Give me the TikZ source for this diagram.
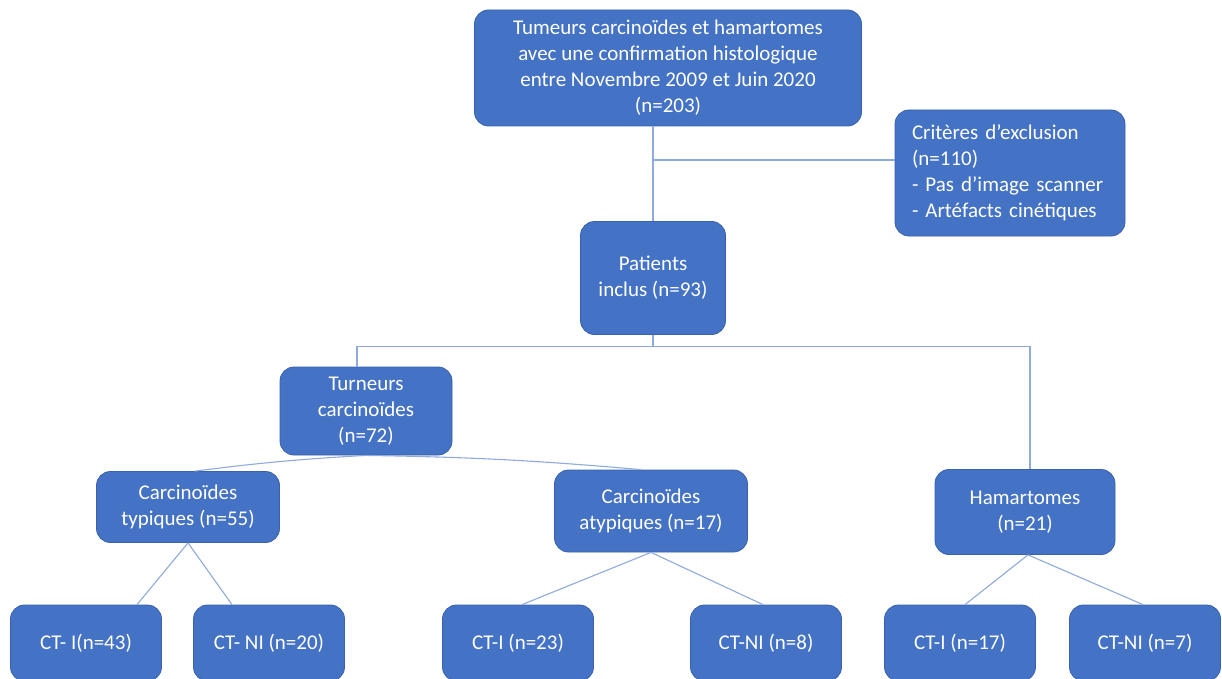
\documentclass[tikz,border=0pt]{standalone}
\usepackage{fontspec}
\setmainfont{Carlito}
\usetikzlibrary{positioning}
\definecolor{boxblue}{HTML}{4472C4}
\definecolor{boxedge}{HTML}{3A62AC}
\definecolor{linkblue}{HTML}{8FAADC}

\begin{document}
\begin{tikzpicture}
	[
		x=1pt, y=-1pt,
		bluebox/.style={rectangle, rounded corners=14pt, draw=boxedge, fill=boxblue, line width=0.8pt, text=white, align=center, inner sep=0pt, font=\fontsize{21}{26}\selectfont},
		leafbox/.style={bluebox, minimum width=151pt, minimum height=76pt},
		link/.style={draw=linkblue, line width=1.1pt},
	]
	\useasboundingbox (0,0) rectangle (1222,679);

	\node[bluebox, minimum width=387pt, minimum height=116pt] (tumeurs) at (668,68) {Tumeurs carcinoïdes et hamartomes\\avec une confirmation histologique\\entre Novembre 2009 et Juin 2020\\(n=203)};
	\node[bluebox, minimum width=230pt, minimum height=126pt, text width=196pt, align=left] (exclusion) at (1010,173) {Critères d’exclusion\\(n=110)\\- Pas d’image scanner\\- Artéfacts cinétiques};
	\node[bluebox, minimum width=145pt, minimum height=113pt] (inclus) at (653,278) {Patients\\inclus (n=93)};

	\node[bluebox, minimum width=172pt, minimum height=88pt] (carcinoides) at (366,411) {Turneurs\\carcinoïdes\\(n=72)};
	\node[bluebox, minimum width=183pt, minimum height=71pt] (typiques) at (188,507) {Carcinoïdes\\typiques (n=55)};
	\node[bluebox, minimum width=193pt, minimum height=82pt] (atypiques) at (651,511) {Carcinoïdes\\atypiques (n=17)};
	\node[bluebox, minimum width=180pt, minimum height=85pt] (hamartomes) at (1025,512) {Hamartomes\\(n=21)};

	\node[leafbox] (typI) at (86,643) {CT- I(n=43)};
	\node[leafbox] (typNI) at (269,643) {CT- NI (n=20)};
	\node[leafbox] (atypI) at (518,643) {CT-I (n=23)};
	\node[leafbox] (atypNI) at (766,643) {CT-NI (n=8)};
	\node[leafbox] (hamI) at (960,643) {CT-I (n=17)};
	\node[leafbox] (hamNI) at (1145,643) {CT-NI (n=7)};

	% tronc et exclusion
	\draw[link] (tumeurs.south -| inclus.north) -- (inclus.north);
	\coordinate (excljoin) at (654,160);
	\draw[link] (excljoin) -- (excljoin -| exclusion.west);

	% branches principales
	\draw[link] (inclus.south) -- ++(0,12) -| ([xshift=-9pt]carcinoides.north);
	\draw[link] (inclus.south) -- ++(0,12) -| ([xshift=5pt]hamartomes.north);

	\draw[link] (carcinoides.south) to[bend right=2] ([xshift=7pt]typiques.north);
	\draw[link] (carcinoides.south) to[bend left=2] ([xshift=-10pt]atypiques.north);

	% feuilles
	\draw[link] (typiques.south) -- ([xshift=51pt]typI.north);
	\draw[link] (typiques.south) -- ([xshift=-37pt]typNI.north);
	\draw[link] (atypiques.south) -- ([xshift=4pt]atypI.north);
	\draw[link] (atypiques.south) -- ([xshift=-3pt]atypNI.north);
	\draw[link] ([xshift=3pt]hamartomes.south) -- ([xshift=5pt]hamI.north);
	\draw[link] ([xshift=3pt]hamartomes.south) -- ([xshift=-2pt]hamNI.north);

\end{tikzpicture}
\end{document}
